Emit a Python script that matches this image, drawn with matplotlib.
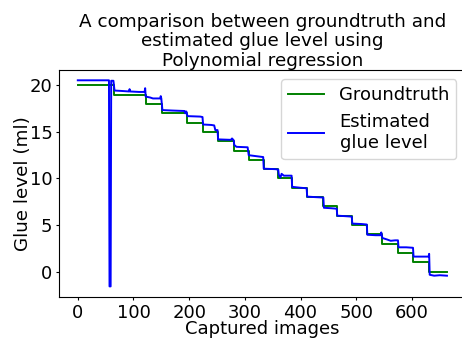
import numpy as np
import matplotlib.pyplot as plt

# groundtruth: level held between consecutive edges
gt_edges = [0, 65, 122, 151, 197, 224, 252, 280, 307, 334, 360, 384,
            411, 441, 465, 492, 519, 546, 575, 602, 631, 663]
gt_levels = [20, 19, 18, 17, 16, 15, 14, 13, 12, 11, 10,
             9, 8, 7, 6, 5, 4, 3, 2, 1, 0]

# estimated glue level
est_x = [0, 56, 57, 59, 60, 64, 66, 80, 92, 93, 94, 110, 120, 121, 122, 130,
         135, 148, 149, 150, 152, 170, 192, 193, 195, 197, 220, 224, 225, 240,
         245, 247, 251, 252, 275, 277, 280, 281, 285, 305, 307, 320, 333, 334,
         355, 360, 361, 364, 366, 370, 384, 385, 400, 411, 412, 425, 441, 442,
         455, 465, 466, 480, 492, 493, 510, 519, 520, 535, 544, 545, 547, 555,
         562, 570, 575, 576, 590, 602, 603, 620, 630, 631, 632, 640, 650, 663]
est_y = [20.55, 20.55, -1.6, -1.6, 20.5, 20.5, 19.45, 19.4, 19.35, 19.6, 19.35,
         19.3, 19.3, 19.7, 18.8, 18.7, 18.6, 18.6, 18.85, 18.6, 17.35, 17.3,
         17.25, 17.0, 17.2, 16.7, 16.65, 16.6, 15.8, 15.75, 15.7, 15.2, 15.2,
         14.2, 14.15, 14.3, 14.1, 13.6, 13.4, 13.35, 12.5, 12.4, 12.3, 11.05,
         11.0, 10.95, 10.4, 10.1, 10.5, 10.3, 10.3, 9.1, 9.0, 8.95, 8.05, 8.0,
         7.95, 6.85, 6.8, 6.75, 6.0, 5.95, 5.9, 5.15, 5.1, 5.05, 3.95, 3.9, 3.9,
         4.2, 3.6, 3.45, 3.3, 3.35, 3.35, 2.6, 2.6, 2.55, 1.6, 1.6, 1.6, 1.9,
         -0.35, -0.45, -0.4, -0.45]

plt.rcParams['font.size'] = 13
plt.rcParams['xtick.major.size'] = 2.5
plt.rcParams['ytick.major.size'] = 2.5
plt.rcParams['xtick.major.pad'] = 2.5
plt.rcParams['ytick.major.pad'] = 2.5

fig = plt.figure(figsize=(4.62, 3.38), dpi=100)
ax = fig.add_axes([0.1284, 0.1222, 0.879, 0.6707])

ax.step(gt_edges, gt_levels + [gt_levels[-1]], where='post',
        color='green', linewidth=1.4, label='Groundtruth')
ax.plot(est_x, est_y, color='blue', linewidth=1.4,
        label='Estimated\nglue level')

ax.set_title('A comparison between groundtruth and\nestimated glue level using\nPolynomial regression',
             fontsize=13.2, linespacing=1.1, pad=3)
ax.set_xlabel('Captured images', fontsize=13, labelpad=-1)
ax.set_ylabel('Glue level (ml)', fontsize=13.2, labelpad=-1.5)
ax.set_yticks([0, 5, 10, 15, 20])
ax.set_xticks([0, 100, 200, 300, 400, 500, 600])

leg = ax.legend(loc='upper right')
for t in leg.get_texts():
    t.set_multialignment('center')

fig.savefig('out.png', dpi=100)
